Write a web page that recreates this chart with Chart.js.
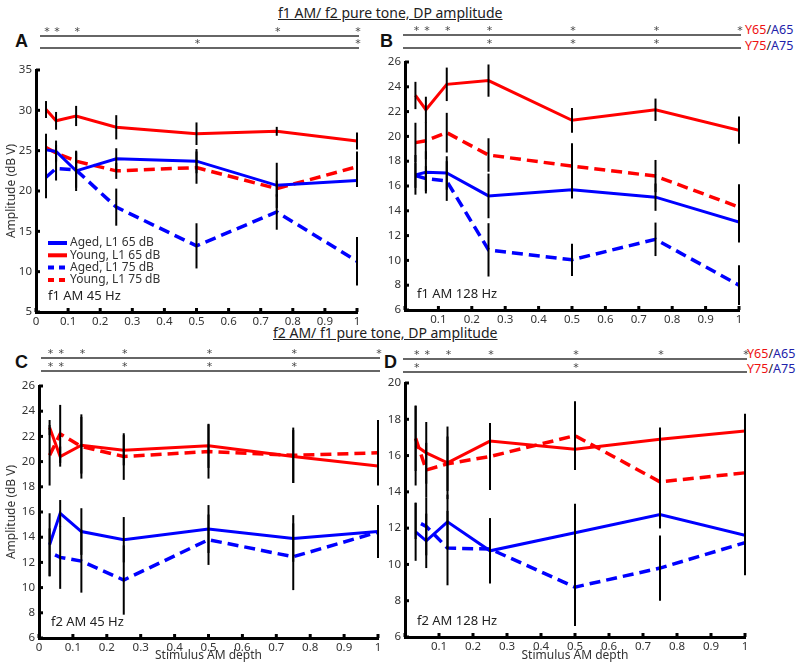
<!DOCTYPE html>
<html>
<head>
<meta charset="utf-8">
<script src="https://cdn.jsdelivr.net/npm/chart.js@4.4.1/dist/chart.umd.min.js"></script>
<style>
  body { margin: 0; background: #fff; }
  #wrap { position: relative; width: 800px; height: 670px; overflow: hidden; font-family: 'Noto Sans', sans-serif; color: #222; }
  canvas { position: absolute; }
  .title { position: absolute; font-size: 14px; text-decoration: underline; white-space: nowrap; }
  .letter { position: absolute; font-family: 'Liberation Sans', Arial, sans-serif; font-weight: bold; font-size: 18px; color: #111; }
  .grp { position: absolute; font-size: 12.5px; white-space: nowrap; }
  .r { color: #ee1111; }
  .b { color: #2222aa; }
</style>
</head>
<body>
<div id="wrap">
  <div class="title" style="left:278px; top:3px;">f1 AM/ f2 pure tone, DP amplitude</div>
  <div class="title" style="left:273px; top:323px;">f2 AM/ f1 pure tone, DP amplitude</div>
  <div class="letter" style="left:15px; top:31px;">A</div>
  <div class="letter" style="left:380px; top:31px;">B</div>
  <div class="letter" style="left:15px; top:352px;">C</div>
  <div class="letter" style="left:384px; top:352px;">D</div>
  <div class="grp" style="left:745px; top:21px;"><span class="r">Y65</span>/<span class="b">A65</span></div>
  <div class="grp" style="left:745px; top:37px;"><span class="r">Y75</span>/<span class="b">A75</span></div>
  <div class="grp" style="left:747px; top:345px;"><span class="r">Y65</span>/<span class="b">A65</span></div>
  <div class="grp" style="left:747px; top:360px;"><span class="r">Y75</span>/<span class="b">A75</span></div>

  <canvas id="cA" width="400" height="330" style="left:0; top:0;"></canvas>
  <canvas id="cB" width="420" height="330" style="left:380px; top:0;"></canvas>
  <canvas id="cC" width="400" height="340" style="left:0; top:330px;"></canvas>
  <canvas id="cD" width="420" height="340" style="left:380px; top:330px;"></canvas>
</div>
<script>
// stimulus AM depth
const depth = [0.03125, 0.0625, 0.125, 0.25, 0.5, 0.75, 1];
const groups = ['Aged, L1 65 dB', 'Young, L1 65 dB', 'Aged, L1 75 dB', 'Young, L1 75 dB'];

// A: f1 AM 45 Hz
const aAged65 = [25.1, 24.9, 22.5, 24.0, 23.7, 20.7, 21.3];
const aAged65Err = [2.0, 1.35, 2.5, 1.3, 1.5, 2.8, 0.8];
const aYoung65 = [30.1, 28.7, 29.3, 27.9, 27.1, 27.4, 26.2];
const aYoung65Err = [1.05, 1.1, 1.25, 1.5, 1.4, 0.55, 1.05];
const aAged75 = [21.7, 22.8, 22.6, 18.0, 13.2, 17.4, 11.3];
const aAged75Err = [2.6, 1.5, 2.2, 2.3, 2.8, 2.2, 3.0];
const aYoung75 = [25.4, 24.7, 23.7, 22.5, 22.9, 20.3, 23.0];
const aYoung75Err = [1.0, 1.0, 1.2, 1.0, 2.0, 1.0, 1.9];

// B: f1 AM 128 Hz
const bAged65 = [16.9, 17.1, 17.05, 15.2, 15.7, 15.1, 13.1];
const bAged65Err = [1.6, 1.7, 1.35, 1.8, 0.7, 1.1, 1.65];
const bYoung65 = [23.3, 22.15, 24.2, 24.5, 21.3, 22.15, 20.5];
const bYoung65Err = [1.1, 1.05, 1.35, 1.3, 1.0, 0.9, 1.1];
const bAged75 = [16.85, 16.6, 16.4, 10.85, 10.05, 11.7, 8.0];
const bAged75Err = [1.0, 1.0, 1.6, 2.15, 1.3, 1.35, 1.6];
const bYoung75 = [19.5, 19.65, 20.3, 18.5, 17.6, 16.8, 14.3];
const bYoung75Err = [1.6, 1.5, 1.6, 1.35, 1.85, 1.3, 1.85];

// C: f2 AM 45 Hz
const cAged65 = [13.4, 15.9, 14.45, 13.8, 14.65, 13.9, 14.45];
const cAged65Err = [2.5, 1.05, 1.85, 1.8, 1.9, 1.85, 2.1];
const cYoung65 = [22.7, 20.4, 21.3, 20.9, 21.25, 20.4, 19.65];
const cYoung65Err = [0.6, 0.8, 2.25, 1.2, 1.75, 2.1, 1.35];
const cAged75 = [12.8, 12.4, 12.1, 10.6, 13.8, 12.45, 14.4];
const cAged75Err = [1.9, 2.5, 2.5, 2.75, 2.0, 2.65, 1.5];
const cYoung75 = [20.5, 22.2, 21.2, 20.4, 20.8, 20.5, 20.7];
const cYoung75Err = [2.4, 2.3, 2.55, 1.85, 2.15, 2.2, 2.6];

// D: f2 AM 128 Hz
const dAged65 = [11.8, 11.3, 12.35, 10.75, 11.75, 12.75, 11.6];
const dAged65Err = [1.6, 1.5, 1.5, 1.8, 1.6, 0.75, 2.2];
const dYoung65 = [16.55, 16.15, 15.6, 16.8, 16.35, 16.9, 17.35];
const dYoung65Err = [2.2, 1.7, 2.0, 0.9, 1.15, 0.65, 0.95];
const dAged75 = [12.4, 12.1, 10.9, 10.85, 8.75, 9.8, 11.2];
const dAged75Err = [1.0, 1.6, 2.05, 1.7, 2.15, 1.8, 1.7];
const dYoung75 = [16.95, 15.2, 15.55, 15.95, 17.1, 14.55, 15.05];
const dYoung75Err = [1.8, 1.5, 1.5, 1.85, 1.9, 2.55, 2.0];

// significance stars (Y65/A65 row, Y75/A75 row)
const sigA65 = [0.03125, 0.0625, 0.125, 0.75, 1];
const sigA75 = [0.5, 1];
const sigB65 = [0.03125, 0.0625, 0.125, 0.25, 0.5, 0.75, 1];
const sigB75 = [0.25, 0.5, 0.75];
const sigC65 = [0.03125, 0.0625, 0.125, 0.25, 0.5, 0.75, 1];
const sigC75 = [0.03125, 0.0625, 0.25, 0.5, 0.75];
const sigD65 = [0.03125, 0.0625, 0.125, 0.25, 0.5, 0.75, 1];
const sigD75 = [0.03125, 0.5];

// y axis ranges [min, max, step]
const yRangeA = [5, 35, 5];
const yRangeB = [6, 26, 2];
const yRangeC = [6, 26, 2];
const yRangeD = [6, 20, 2];

const RED = '#ff0000';
const BLUE = '#0000ff';
const DASH = [11, 6];

Chart.defaults.font.family = "'Noto Sans', sans-serif";
Chart.defaults.color = '#333';

const decor = {
  id: 'decor',
  afterDatasetsDraw(chart) {
    const { ctx, scales: { x, y } } = chart;
    ctx.save();
    ctx.strokeStyle = '#000';
    ctx.lineWidth = 2;
    chart.data.datasets.forEach(ds => {
      ds.data.forEach((p, i) => {
        if (p.y == null) return;
        const px = x.getPixelForValue(p.x);
        ctx.beginPath();
        ctx.moveTo(px, y.getPixelForValue(p.y - ds.errors[i]));
        ctx.lineTo(px, y.getPixelForValue(p.y + ds.errors[i]));
        ctx.stroke();
      });
    });
    ctx.restore();
  },
  afterDraw(chart, args, opts) {
    const { ctx, chartArea: a, scales: { x, y } } = chart;
    ctx.save();
    // inward tick marks
    ctx.strokeStyle = '#000';
    ctx.lineWidth = 3;
    x.ticks.forEach(t => {
      const px = x.getPixelForValue(t.value);
      ctx.beginPath(); ctx.moveTo(px, a.bottom); ctx.lineTo(px, a.bottom - 4); ctx.stroke();
    });
    y.ticks.forEach(t => {
      const py = y.getPixelForValue(t.value);
      ctx.beginPath(); ctx.moveTo(a.left, py); ctx.lineTo(a.left + 4, py); ctx.stroke();
    });

    // significance rows above the plot
    opts.sig.forEach(row => {
      const ly = a.top - row.dy;
      ctx.strokeStyle = '#333';
      ctx.lineWidth = 1.5;
      ctx.beginPath(); ctx.moveTo(a.left + opts.lineFrom, ly); ctx.lineTo(a.right + 2, ly); ctx.stroke();
      ctx.fillStyle = '#444';
      ctx.font = "11px 'DejaVu Sans'";
      ctx.textAlign = 'center';
      ctx.textBaseline = 'middle';
      row.x.forEach(v => ctx.fillText('*', x.getPixelForValue(v) + 1, ly - 4));
    });

    // panel note
    ctx.fillStyle = '#222';
    ctx.font = "13px 'Noto Sans'";
    ctx.textAlign = 'left';
    ctx.textBaseline = 'middle';
    ctx.fillText(opts.note, a.left + 12, a.bottom - 16);

    // legend
    if (opts.legend) {
      ctx.font = "12px 'Noto Sans'";
      chart.data.datasets.forEach((ds, i) => {
        const ry = a.bottom - 69 + i * 12.3;
        ctx.strokeStyle = ds.borderColor;
        ctx.lineWidth = 4;
        ctx.setLineDash(ds.borderDash.length ? [6, 5] : []);
        ctx.beginPath(); ctx.moveTo(a.left + 12, ry); ctx.lineTo(a.left + 31, ry); ctx.stroke();
        ctx.setLineDash([]);
        ctx.fillStyle = '#333';
        ctx.fillText(ds.label, a.left + 34, ry);
      });
    }
    ctx.restore();
  }
};

function series(label, vals, errs, color, dash, dashOffset) {
  return {
    label: label,
    data: depth.map((d, i) => ({ x: d, y: vals[i] })),
    errors: errs,
    borderColor: color,
    borderWidth: dash.length ? 3.5 : 3,
    borderDash: dash,
    borderDashOffset: dashOffset || 0,
    pointRadius: 0,
    fill: false,
    tension: 0
  };
}

function makePanel(id, p) {
  return new Chart(document.getElementById(id), {
    type: 'line',
    data: {
      datasets: [
        series(groups[0], p.aged65, p.aged65Err, BLUE, []),
        series(groups[1], p.young65, p.young65Err, RED, []),
        series(groups[2], p.aged75, p.aged75Err, BLUE, DASH, p.aged75Offset),
        series(groups[3], p.young75, p.young75Err, RED, DASH)
      ]
    },
    options: {
      responsive: false,
      animation: false,
      devicePixelRatio: 1,
      layout: { padding: { left: 0, top: p.top, right: p.right, bottom: 0 } },
      plugins: {
        legend: { display: false },
        tooltip: { enabled: false },
        decor: { sig: p.sig, note: p.note, legend: p.legend, lineFrom: p.lineFrom }
      },
      scales: {
        x: {
          type: 'linear',
          min: 0,
          max: 1,
          afterFit: s => { s.height = p.xHeight; },
          grid: { display: false, drawTicks: false },
          border: { display: true, color: '#000', width: 3 },
          ticks: {
            stepSize: 0.1,
            padding: 3,
            font: { size: 11.5 },
            color: '#333',
            maxRotation: 0,
            callback: v => (v === 0 && p.hideZero) ? '' : String(Math.round(v * 10) / 10)
          },
          title: {
            display: !!p.xTitle,
            text: p.xTitle || '',
            font: { size: 12 },
            color: '#333',
            padding: { top: 0, bottom: 7 }
          }
        },
        y: {
          min: p.yRange[0],
          max: p.yRange[1],
          afterFit: s => { s.width = p.yWidth; },
          grid: { display: false, drawTicks: false },
          border: { display: true, color: '#000', width: 3 },
          ticks: { stepSize: p.yRange[2], padding: 4, font: { size: 11.5 }, color: '#333' },
          title: {
            display: !!p.yTitle,
            text: p.yTitle || '',
            font: { size: 12 },
            color: '#333',
            padding: { top: 4, bottom: 0 }
          }
        }
      }
    },
    plugins: [decor]
  });
}

makePanel('cA', {
  aged65: aAged65, aged65Err: aAged65Err, young65: aYoung65, young65Err: aYoung65Err,
  aged75: aAged75, aged75Err: aAged75Err, young75: aYoung75, young75Err: aYoung75Err,
  yRange: yRangeA, top: 70, right: 43, yWidth: 36, xHeight: 18,
  sig: [{ x: sigA65, dy: 34 }, { x: sigA75, dy: 22 }], lineFrom: 4,
  note: 'f1 AM 45 Hz', legend: true, yTitle: 'Amplitude (dB V)', hideZero: false
});

makePanel('cB', {
  aged65: bAged65, aged65Err: bAged65Err, young65: bYoung65, young65Err: bYoung65Err,
  aged75: bAged75, aged75Err: bAged75Err, young75: bYoung75, young75Err: bYoung75Err,
  yRange: yRangeB, top: 62, right: 61, yWidth: 25, xHeight: 20,
  sig: [{ x: sigB65, dy: 27 }, { x: sigB75, dy: 14 }], lineFrom: -2,
  note: 'f1 AM 128 Hz', legend: false, hideZero: true
});

makePanel('cC', {
  aged65: cAged65, aged65Err: cAged65Err, young65: cYoung65, young65Err: cYoung65Err,
  aged75: cAged75, aged75Err: cAged75Err, young75: cYoung75, young75Err: cYoung75Err,
  aged75Offset: 11,
  yRange: yRangeC, top: 56, right: 22, yWidth: 39, xHeight: 32,
  sig: [{ x: sigC65, dy: 28 }, { x: sigC75, dy: 15 }], lineFrom: 2,
  note: 'f2 AM 45 Hz', legend: false, yTitle: 'Amplitude (dB V)', xTitle: 'Stimulus AM depth', hideZero: false
});

makePanel('cD', {
  aged65: dAged65, aged65Err: dAged65Err, young65: dYoung65, young65Err: dYoung65Err,
  aged75: dAged75, aged75Err: dAged75Err, young75: dYoung75, young75Err: dYoung75Err,
  aged75Offset: 11,
  yRange: yRangeD, top: 53, right: 55, yWidth: 25, xHeight: 33,
  sig: [{ x: sigD65, dy: 24 }, { x: sigD75, dy: 11 }], lineFrom: -2,
  note: 'f2 AM 128 Hz', legend: false, xTitle: 'Stimulus AM depth', hideZero: true
});
</script>
</body>
</html>
